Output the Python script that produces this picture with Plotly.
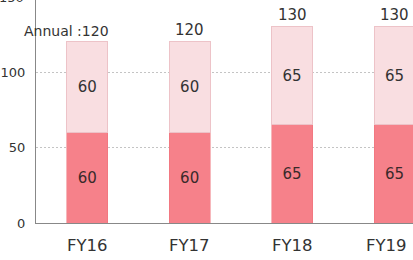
import plotly.graph_objects as go

categories = ["FY16", "FY17", "FY18", "FY19"]
lower = [60, 60, 65, 65]
upper = [60, 60, 65, 65]
totals = [120, 120, 130, 130]
total_labels = ["Annual :120", "120", "130", "130"]
y_ticks = [0, 50, 100]
y_max = 147.7

font_family = "DejaVu Sans, Verdana, sans-serif"

fig = go.Figure()
fig.add_trace(go.Bar(
    x=categories, y=lower, text=[str(v) for v in lower],
    textposition="inside", insidetextanchor="middle",
    textfont=dict(size=15, color="#3a2a2a", family=font_family),
    marker=dict(color="#F6818A", line=dict(color="#EE7078", width=0.5)),
    hoverinfo="skip",
))
fig.add_trace(go.Bar(
    x=categories, y=upper, text=[str(v) for v in upper],
    textposition="inside", insidetextanchor="middle",
    textfont=dict(size=15, color="#333333", family=font_family),
    marker=dict(color="#F9DEE1", line=dict(color="#EDC3C8", width=1)),
    hoverinfo="skip",
))

for i, (c, t, lab) in enumerate(zip(categories, totals, total_labels)):
    if i == 0:
        fig.add_annotation(x=c, y=t, text=lab, showarrow=False, xanchor="right",
                           yanchor="bottom", xshift=24, yshift=1,
                           font=dict(size=14, color="#333333", family=font_family))
    else:
        fig.add_annotation(x=c, y=t, text=lab, showarrow=False, xanchor="center",
                           yanchor="bottom", yshift=1,
                           font=dict(size=15, color="#333333", family=font_family))

# category labels below the axis (last one kept inside the frame)
n = len(categories)
for i, c in enumerate(categories):
    if i == n - 1:
        fig.add_annotation(x=1, xref="paper", y=0, yref="paper", text=c,
                           showarrow=False, xanchor="right", yanchor="middle",
                           xshift=-4, yshift=-22,
                           font=dict(size=16.5, color="#333333", family=font_family))
    else:
        fig.add_annotation(x=c, y=0, yref="paper", text=c, showarrow=False,
                           xanchor="center", yanchor="middle", yshift=-22,
                           font=dict(size=16.5, color="#333333", family=font_family))

# partially visible top tick label (150, just above the visible range)
fig.add_annotation(x=0, xref="paper", y=150 / y_max, yref="paper", text="150",
                   showarrow=False, xanchor="right", yanchor="middle", xshift=-10,
                   yshift=-1, font=dict(size=13, color="#333333", family=font_family))

fig.update_layout(
    width=413, height=260,
    margin=dict(l=36, r=0, t=0, b=37),
    barmode="stack", bargap=0.6,
    showlegend=False,
    plot_bgcolor="white", paper_bgcolor="white",
    font=dict(family=font_family, color="#333333"),
    xaxis=dict(range=[-0.5, 3.18], showline=True, linecolor="#888888", linewidth=1,
               ticks="", showticklabels=False, showgrid=False,
               fixedrange=True, automargin=False),
    yaxis=dict(range=[0, y_max], tickvals=y_ticks, showline=True, linecolor="#888888",
               linewidth=1, showgrid=True, gridcolor="#C4C4C4", griddash="2px,2px",
               gridwidth=1, zeroline=False, ticks="", ticklabelstandoff=7,
               tickfont=dict(size=13, color="#333333"), fixedrange=True,
               automargin=False),
)

fig.write_html("out.html")
